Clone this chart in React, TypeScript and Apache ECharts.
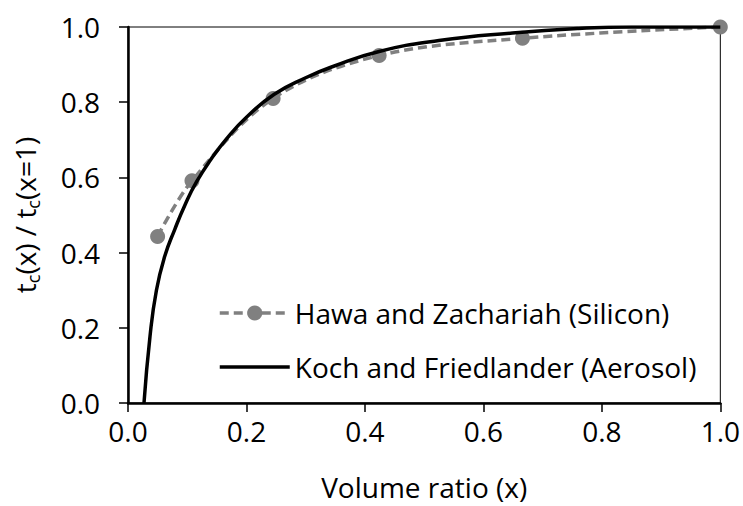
import React, { useEffect, useRef } from "react";
import * as echarts from "echarts";

const xTickLabels = ["0.0", "0.2", "0.4", "0.6", "0.8", "1.0"];
const yTickLabels = ["0.0", "0.2", "0.4", "0.6", "0.8", "1.0"];

const hawaX = [0.05, 0.108, 0.245, 0.424, 0.666, 1.0];
const hawaY = [0.443, 0.591, 0.81, 0.924, 0.97, 1.0];

const kochX = [0.027, 0.037, 0.048, 0.062, 0.079, 0.096, 0.1156, 0.141, 0.166, 0.2, 0.247, 0.3, 0.346, 0.424, 0.525, 0.649, 0.761, 0.85, 1.0];
const kochY = [0.0, 0.175, 0.3, 0.39, 0.462, 0.526, 0.588, 0.65, 0.702, 0.76, 0.821, 0.865, 0.895, 0.935, 0.964, 0.984, 0.996, 1.0, 1.0];

const seriesNames = ["Hawa and Zachariah (Silicon)", "Koch and Friedlander (Aerosol)"];
const FONT = "'Open Sans', 'Noto Sans', sans-serif";

export default function App() {
  const ref = useRef<HTMLDivElement>(null);
  useEffect(() => {
    if (!ref.current) return;
    const chart = echarts.init(ref.current, null, { renderer: "svg" });
    chart.setOption({
      animation: false,
      backgroundColor: "#ffffff",
      textStyle: { fontFamily: FONT },
      grid: {
        left: 128,
        right: 21,
        top: 27,
        bottom: 99.5,
        show: true,
        borderColor: "#000",
        borderWidth: 1,
        backgroundColor: "transparent",
      },
      legend: {
        orient: "vertical",
        left: 213,
        top: 294,
        itemWidth: 70,
        itemHeight: 19,
        itemGap: 26,
        textStyle: { fontSize: 28, color: "#000", fontFamily: FONT },
        data: [
          { name: seriesNames[0], lineStyle: { width: 3.5, type: [9, 5], color: "#808080" } },
          {
            name: seriesNames[1],
            itemStyle: { color: "rgba(0,0,0,0)", opacity: 0, borderWidth: 0 },
            lineStyle: { width: 3.5, color: "#000" },
          },
        ],
      },
      xAxis: {
        type: "value",
        min: 0,
        max: 1,
        interval: 0.2,
        name: "Volume ratio (x)",
        nameLocation: "middle",
        nameGap: 70,
        nameTextStyle: { fontSize: 28, color: "#000", fontFamily: FONT },
        axisLine: { onZero: false, lineStyle: { color: "#000", width: 2.5 } },
        axisTick: { show: true, length: 9, lineStyle: { color: "#000", width: 1.5 } },
        axisLabel: {
          margin: 14,
          fontSize: 28,
          color: "#000",
          fontFamily: FONT,
          formatter: (v: number) => xTickLabels[Math.round(v / 0.2)] ?? "",
        },
        splitLine: { show: false },
      },
      yAxis: {
        type: "value",
        min: 0,
        max: 1,
        interval: 0.2,
        name: "{m|t}{s|c}{m|(x) / t}{s|c}{m|(x=1)}",
        nameLocation: "middle",
        nameGap: 86,
        nameTextStyle: {
          color: "#000",
          fontFamily: FONT,
          rich: {
            m: { fontSize: 28, lineHeight: 34, color: "#000", fontFamily: FONT, verticalAlign: "middle" },
            s: { fontSize: 18, lineHeight: 18, color: "#000", fontFamily: FONT, verticalAlign: "bottom" },
          },
        },
        axisLine: { onZero: false, lineStyle: { color: "#000", width: 2.5 } },
        axisTick: { show: true, length: 9, lineStyle: { color: "#000", width: 1.5 } },
        axisLabel: {
          margin: 28,
          fontSize: 28,
          color: "#000",
          fontFamily: FONT,
          formatter: (v: number) => yTickLabels[Math.round(v / 0.2)] ?? "",
        },
        splitLine: { show: false },
      },
      series: [
        {
          name: seriesNames[0],
          type: "line",
          data: hawaX.map((x, i) => [x, hawaY[i]]),
          smooth: 0.35,
          symbol: "circle",
          symbolSize: 15,
          itemStyle: { color: "#808080" },
          lineStyle: { color: "#808080", width: 3.5, type: [9, 5] },
          z: 2,
        },
        {
          name: seriesNames[1],
          type: "line",
          data: kochX.map((x, i) => [x, kochY[i]]),
          smooth: 0.5,
          showSymbol: false,
          symbol: "none",
          itemStyle: { color: "#000" },
          lineStyle: { color: "#000", width: 3.5 },
          z: 3,
        },
      ],
    });
    return () => chart.dispose();
  }, []);
  return <div ref={ref} style={{ width: 743, height: 506, position: "absolute", left: 0, top: 0 }} />;
}
